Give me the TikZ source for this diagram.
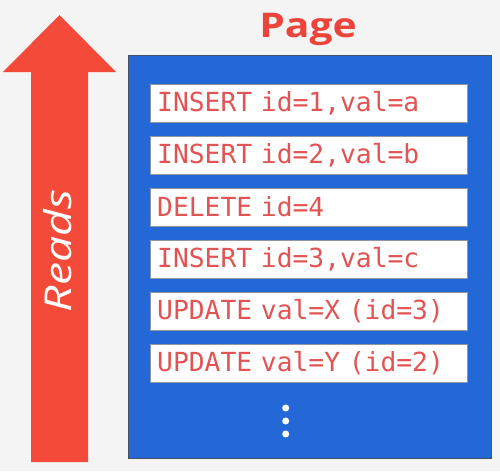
\documentclass[tikz,border=0pt]{standalone}
\usepackage{fontspec}
\usepackage{graphicx}
\newfontfamily\uifont{Open Sans}
\newfontfamily\codefont{DejaVu Sans Mono}
\definecolor{bgc}{RGB}{244,244,244}
\definecolor{arrowred}{RGB}{244,74,58}
\definecolor{titlered}{RGB}{236,68,58}
\definecolor{pageblue}{RGB}{36,103,214}
\definecolor{pageedge}{RGB}{70,80,100}
\definecolor{codered}{RGB}{226,84,84}
\tikzset{
  rowbox/.style={draw=pageedge!60, line width=0.8pt, fill=white, minimum width=317pt, minimum height=38pt,
    text width=304pt, align=left, inner xsep=6.5pt, inner ysep=0pt,
    font=\fontsize{26.3pt}{28pt}\codefont, text=codered},
  dotc/.style={circle, fill=white, inner sep=0pt, minimum size=7pt}
}
\begin{document}
\begin{tikzpicture}[x=1pt,y=-1pt]
\useasboundingbox (0,0) rectangle (500,471);
\fill[bgc] (0,0) rectangle (500,471);
% arrow
\fill[arrowred] (31,462) -- (31,72) -- (3,72) -- (59.5,15) -- (116,72) -- (88,72) -- (88,462) -- cycle;
\node (reads) [rotate=90, text=white, font=\fontsize{37pt}{42pt}\uifont\itshape, inner sep=0pt] at (58,251) {\scalebox{1.25}[1]{Reads}};
% title
\node (title) [text=titlered, font=\fontsize{34pt}{40pt}\uifont\bfseries, inner sep=0pt] at (308,29) {\scalebox{1.2}[1]{Page}};
% page
\node (page) [draw=pageedge, line width=1pt, fill=pageblue, minimum width=363pt, minimum height=403pt, inner sep=0pt] at (309.5,256.5) {};
\node (r1) [rowbox] at (309.2,103) {INSERT id=1,val=a};
\node (r2) [rowbox] at (309.2,155) {INSERT id=2,val=b};
\node (r3) [rowbox] at (309.2,207) {DELETE id=4};
\node (r4) [rowbox] at (309.2,259) {INSERT id=3,val=c};
\node (r5) [rowbox] at (309.2,311) {UPDATE val=X (id=3)};
\node (r6) [rowbox] at (309.2,363) {UPDATE val=Y (id=2)};
\node (d1) [dotc] at (285.7,408) {};
\node (d2) [dotc] at (285.7,421) {};
\node (d3) [dotc] at (285.7,434) {};
\end{tikzpicture}
\end{document}
